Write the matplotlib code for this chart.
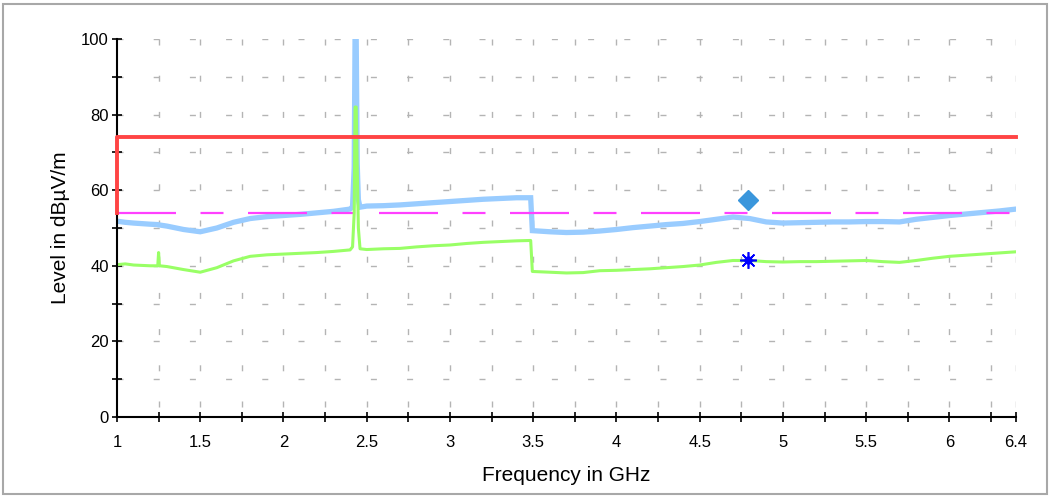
import matplotlib
matplotlib.use("Agg")
import matplotlib.pyplot as plt
from matplotlib.patches import Rectangle

plt.rcParams['font.family'] = ['Liberation Sans', 'DejaVu Sans']

# frequency axis (GHz) and the two measured traces (dBuV/m)
freq = [1.00, 1.05, 1.10, 1.20, 1.245, 1.25, 1.255, 1.30, 1.40, 1.50, 1.60, 1.70,
        1.80, 1.90, 2.00, 2.10, 2.20, 2.30, 2.40, 2.415, 2.425, 2.430, 2.437,
        2.443, 2.450, 2.460, 2.50, 2.60, 2.70, 2.80, 2.90, 3.00, 3.10, 3.20,
        3.30, 3.40, 3.485, 3.495, 3.60, 3.70, 3.80, 3.90, 4.00, 4.10, 4.20,
        4.30, 4.40, 4.50, 4.60, 4.70, 4.80, 4.90, 5.00, 5.10, 5.20, 5.30, 5.40,
        5.50, 5.60, 5.70, 5.80, 5.90, 6.00, 6.10, 6.20, 6.30, 6.40]
peak = [51.8, 51.5, 51.3, 51.0, 50.9, 50.8, 50.8, 50.5, 49.6, 49.0, 50.0, 51.5,
        52.5, 53.0, 53.3, 53.6, 54.0, 54.4, 55.0, 55.6, 66.0, 100.0, 100.0,
        67.0, 57.5, 55.5, 55.8, 55.9, 56.1, 56.4, 56.7, 57.0, 57.3, 57.6,
        57.8, 58.0, 58.0, 49.3, 49.0, 48.8, 48.9, 49.2, 49.6, 50.1, 50.5,
        50.9, 51.2, 51.7, 52.3, 52.9, 52.5, 51.6, 51.3, 51.4, 51.5, 51.6, 51.6,
        51.7, 51.7, 51.6, 52.3, 52.8, 53.3, 53.7, 54.1, 54.5, 55.0]
average = [40.3, 40.5, 40.2, 40.0, 40.0, 43.5, 40.0, 39.8, 39.0, 38.3, 39.5, 41.3,
           42.5, 42.9, 43.1, 43.3, 43.5, 43.8, 44.2, 45.0, 54.0, 82.0, 82.0,
           66.0, 50.0, 44.5, 44.3, 44.5, 44.6, 45.0, 45.3, 45.5, 45.9, 46.2,
           46.4, 46.6, 46.7, 38.5, 38.3, 38.1, 38.2, 38.7, 38.8, 39.0, 39.2,
           39.5, 39.8, 40.2, 40.9, 41.4, 41.4, 41.1, 41.0, 41.1, 41.1, 41.2, 41.3,
           41.4, 41.1, 40.9, 41.4, 42.0, 42.5, 42.8, 43.1, 43.4, 43.7]

# limit lines
limit_freq = [1.0, 1.0, 6.4]
peak_limit = [54, 74, 74]
avg_limit_freq = [1.0, 6.4]
avg_limit = [54, 54]

# final measurement markers
marker_freq = [4.79]
marker_peak = [57.4]
marker_avg = [41.5]

xticks = [1, 1.5, 2, 2.5, 3, 3.5, 4, 4.5, 5, 5.5, 6, 6.4]
xtick_labels = ['1', '1.5', '2', '2.5', '3', '3.5', '4', '4.5', '5', '5.5', '6', '6.4']
xminor = [1.25, 1.75, 2.25, 2.75, 3.25, 3.75, 4.25, 4.75, 5.25, 5.75, 6.25]
yticks = [0, 20, 40, 60, 80, 100]
yminor = [10, 30, 50, 70, 90]

fig = plt.figure(figsize=(10.5, 4.96), dpi=100)
ax = fig.add_axes([0.1114, 0.1593, 0.8562, 0.7621])
ax.set_xlim(1, 6.4)
ax.set_ylim(0, 100)

# dotted-dash grid: 6px on, ~30px off, vertical lines drawn from the top
px = 72 / 100
grid_ls = (0, (6 * px, 30.2 * px))
for x in xminor + xticks[1:]:
    ax.plot([x, x], [100, 0], color='#b4b4b4', lw=1, ls=grid_ls, zorder=1)
for y in yminor + yticks[1:]:
    ax.plot([1, 6.4], [y, y], color='#b4b4b4', lw=1, ls=grid_ls, zorder=1)

ax.plot(freq, peak, color='#99ccff', lw=3.8, zorder=2, solid_joinstyle='miter')
mag_lw = 1.6
ax.plot(avg_limit_freq, avg_limit, color='#ff40ff', lw=mag_lw, zorder=3,
        ls=(0, (59 * px / mag_lw, 24.5 * px / mag_lw, 23 * px / mag_lw, 24.5 * px / mag_lw)))
ax.plot(freq, average, color='#99ff66', lw=2.2, zorder=3)
ax.plot(limit_freq, peak_limit, color='#ff4444', lw=2.8, zorder=7, clip_on=False)
ax.plot(marker_freq, marker_peak, ls='none', marker='D', ms=10, color='#3a96dc', zorder=5)
ax.plot(marker_freq, marker_avg, ls='none', marker=(8, 2, 0), ms=12, mew=1.2,
        color='#0000ff', zorder=5)
ax.plot(marker_freq, marker_avg, ls='none', marker='o', ms=5, color='#0000ff', zorder=5)

for s in ['top', 'right']:
    ax.spines[s].set_visible(False)
for s in ['left', 'bottom']:
    ax.spines[s].set_linewidth(1.5)
    ax.spines[s].set_zorder(6)

ax.set_xticks(xticks)
ax.set_xticklabels(xtick_labels)
ax.set_xticks(xminor, minor=True)
ax.set_yticks(yticks)
ax.set_yticks(yminor, minor=True)
ax.tick_params(which='both', direction='inout', length=7.5, width=1.2, color='black')
ax.tick_params(axis='x', which='major', pad=9, labelsize=12)
ax.tick_params(axis='y', which='major', pad=2, labelsize=12)

ax.set_xlabel('Frequency in GHz', fontsize=15, labelpad=12)
ax.set_ylabel('Level in dBµV/m', fontsize=15, labelpad=8)

fig.patches.append(Rectangle((0.003, 0.004), 0.994, 0.987, transform=fig.transFigure,
                             fill=False, edgecolor='#a8a8a8', lw=1.5))

fig.savefig('out.png', dpi=100)
